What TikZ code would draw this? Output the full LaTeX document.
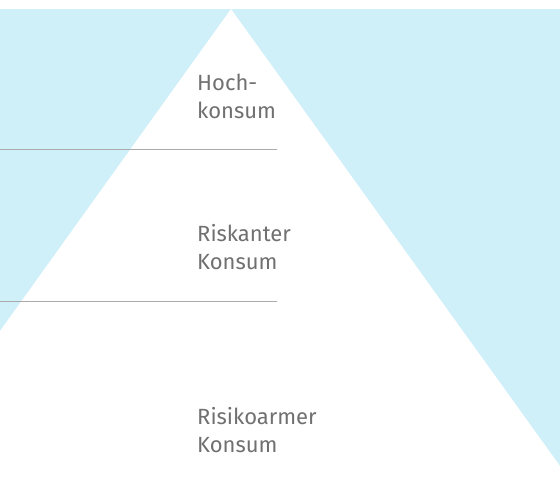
\documentclass[tikz,border=0pt]{standalone}
\usepackage{fontspec}
\setmainfont{Fira Sans}
\usepackage{tikz}
\usetikzlibrary{positioning}
\definecolor{skyblue}{RGB}{207,239,249}
\definecolor{textgray}{RGB}{112,112,112}
\definecolor{linegray}{RGB}{170,170,170}

\begin{document}
\begin{tikzpicture}[x=1pt,y=-1pt,
    level/.style={anchor=north west,inner sep=0pt,align=left,text=textgray,
      font=\fontsize{22}{28}\selectfont}]
      \useasboundingbox (0,0) rectangle (560,481);
      \fill[skyblue] (0,9) rectangle (560,481);
      \fill[white] (231,9) coordinate (top) -- (0,331) -- (0,481) -- (560,481) -- (560,466) -- cycle;
      \draw[linegray,line width=1pt] (0,150) coordinate (l_1) -- (277,150) coordinate (r_1);
      \draw[linegray,line width=1pt] (0,302) coordinate (l_2) -- (277,302) coordinate (r_2);
      \node[level] (hoch) at (197,74) {Hoch-\\konsum};
      \node[level] (risk) at (197,224) {Riskanter\\Konsum};
      \node[level] (arm) at (197,407) {Risikoarmer\\Konsum};
    \end{tikzpicture}
\end{document}
